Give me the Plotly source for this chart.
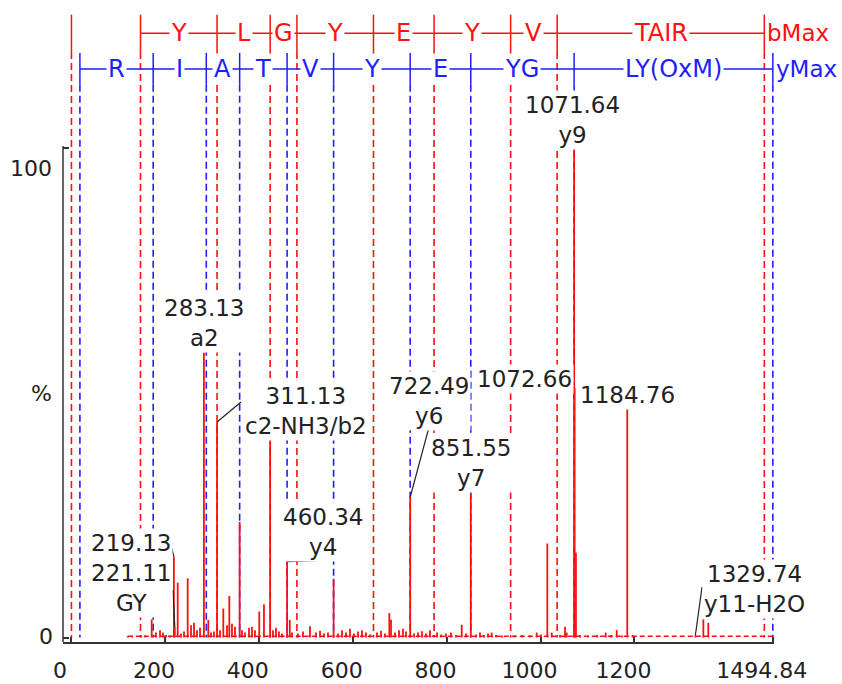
import plotly.graph_objects as go

# ---------------- data ----------------
peak_mz = [121.4, 130.0, 149.0, 157.6, 171.9, 181.0, 189.6, 196.0, 202.3, 210.9,
           219.13, 221.11, 227.3, 234.3, 240.7, 248.6, 255.6, 262.0, 268.4, 274.8,
           283.13, 292.4, 298.2, 304.6, 311.13, 317.4, 324.4, 332.3, 337.2, 342.9,
           349.3, 359.24, 364.2, 370.6, 379.1, 385.5, 391.9, 401.0, 411.0, 424.2,
           430.2, 436.6, 443.0, 449.5, 460.34, 466.0, 470.7, 483.5, 494.1, 509.0,
           521.8, 530.4, 538.9, 547.4, 559.36, 568.7, 577.2, 585.7, 594.2, 602.8,
           611.3, 619.8, 628.3, 636.8, 651.8, 660.3, 668.8, 678.0, 681.6, 690.1,
           698.6, 707.1, 713.5, 722.49, 730.6, 739.1, 747.6, 756.1, 764.6, 779.6,
           788.1, 798.7, 809.4, 820.0, 832.2, 841.3, 851.55, 862.6, 871.1, 879.7,
           888.2, 896.0, 905.2, 918.0, 945.7, 960.6, 977.6, 991.9, 1001.0, 1014.5,
           1023.9, 1041.5, 1052.2, 1055.8, 1071.64, 1072.66, 1075.5, 1084.1, 1101.2, 1120.3,
           1138.9, 1150.2, 1162.3, 1173.6, 1184.76, 1196.4, 1329.74, 1346.8, 1357.4]
peak_int = [0.3, 0.4, 0.5, 0.4, 3.7, 1.0, 1.5, 1.0, 0.5, 0.4,
            16.5, 2.1, 11.2, 0.8, 1.2, 12.1, 2.5, 3.0, 1.5, 2.0,
            58.2, 3.6, 1.0, 1.2, 44.0, 1.5, 5.9, 2.5, 8.5, 2.8,
            2.2, 23.6, 1.5, 1.0, 2.0, 2.2, 1.5, 5.3, 6.8, 40.0,
            1.5, 2.0, 1.2, 0.8, 15.5, 3.6, 1.0, 0.8, 1.2, 2.3,
            1.0, 1.4, 0.8, 1.0, 12.0, 0.8, 1.5, 1.0, 1.8, 0.8,
            1.2, 1.5, 1.0, 0.6, 1.0, 1.4, 0.8, 5.0, 3.6, 1.0,
            1.5, 1.8, 1.2, 28.7, 0.8, 1.0, 1.3, 0.8, 1.5, 1.0,
            0.6, 0.8, 1.0, 0.5, 2.6, 0.8, 29.4, 0.6, 1.0, 0.5,
            0.8, 1.0, 0.5, 0.4, 0.4, 0.5, 0.4, 1.0, 0.6, 19.2,
            1.0, 0.5, 2.2, 1.0, 100.0, 51.0, 17.3, 0.5, 0.4, 0.5,
            1.0, 0.5, 1.5, 0.4, 46.8, 0.5, 0.4, 3.7, 3.0]
baseline_mz = [121.0, 1497.0]
baseline_int = [0.25, 0.25]

# b-ion ladder (red) and y-ion ladder (blue)
b_mz = [1.008, 148.04, 311.10, 424.19, 481.21, 644.27, 773.32, 936.38, 1035.45, 1476.72]
b_res = ["Y", "L", "G", "Y", "E", "Y", "V", "TAIR"]
y_mz = [19.02, 175.12, 288.20, 359.24, 460.29, 559.36, 722.42, 851.47, 1071.55, 1494.83]
y_res = ["R", "I", "A", "T", "V", "Y", "E", "YG", "LY(OxM)"]

# peak labels
label_text = ["1071.64<br>y9", "283.13<br>a2", "311.13<br>c2-NH3/b2",
              "219.13<br>221.11<br>GY", "460.34<br>y4", "722.49<br>y6",
              "851.55<br>y7", "1072.66", "1184.76", "1329.74<br>y11-H2O"]
label_x = [1068.2, 283.3, 499.5, 127.8, 537.8, 762.5, 850.9, 965.9, 1185.3, 1454.7]
label_y = [105.7, 64.2, 46.3, 13.2, 21.5, 48.3, 35.6, 52.8, 49.5, 9.9]

leader_from_mz = [219.13, 221.11, 311.13, 460.34, 722.49, 1329.74]
leader_from_int = [16.5, 2.1, 44.0, 15.5, 28.7, 0.4]
leader_to_mz = [210.9, 217.3, 362.1, 544.2, 761.0, 1344.0]
leader_to_int = [19.5, 9.7, 48.1, 15.8, 42.4, 10.3]

x_ticks = [0, 200, 400, 600, 800, 1000, 1200, 1494.84]
x_ticktext = ["0", "200", "400", "600", "800", "1000", "1200", "1494.84"]

# ---------------- style ----------------
RED = "#ff1010"
BLUE = "#1e1eff"
TXT = "#222222"
AX = "#333333"
FONT = "DejaVu Sans"
X_RANGE = [-17.0, 1497.3]
Y_RANGE = [-0.92, 130.2]
RED_LINE_Y, RED_TICK = 123.4, (127.2, 119.6)
BLUE_LINE_Y, BLUE_TICK = 116.1, (119.4, 112.9)
DASH = "7px,4px"

fig = go.Figure()

# baseline noise
fig.add_trace(go.Scatter(x=baseline_mz, y=baseline_int, mode="lines",
                         line=dict(color=RED, width=1.5, dash="5px,3px"),
                         hoverinfo="skip"))
# stick spectrum
sx, sy = [], []
for m, i in zip(peak_mz, peak_int):
    sx += [m, m, None]
    sy += [0, i, None]
fig.add_trace(go.Scatter(x=sx, y=sy, mode="lines",
                         line=dict(color=RED, width=1.8), hoverinfo="skip"))

shapes = []
annotations = []

def ladder(mzs, res, color, line_y, tick, start_idx, max_label):
    # horizontal ladder line
    shapes.append(dict(type="line", xref="x", yref="y", x0=mzs[start_idx], x1=mzs[-1],
                       y0=line_y, y1=line_y, line=dict(color=color, width=1.5)))
    for m in mzs:
        shapes.append(dict(type="line", xref="x", yref="y", x0=m, x1=m,
                           y0=tick[0], y1=tick[1], line=dict(color=color, width=1.5)))
        shapes.append(dict(type="line", xref="x", yref="y", x0=m, x1=m, layer="below",
                           y0=tick[1], y1=0, line=dict(color=color, width=1.6, dash=DASH)))
    seg = mzs[start_idx:]
    for k, r in enumerate(res):
        annotations.append(dict(x=(seg[k] + seg[k + 1]) / 2, y=line_y, xref="x", yref="y",
                                text=r, showarrow=False, bgcolor="white", borderpad=1,
                                font=dict(family=FONT, size=24, color=color),
                                xanchor="center", yanchor="middle"))
    annotations.append(dict(x=mzs[-1], y=line_y, xref="x", yref="y", text=max_label,
                            showarrow=False, xanchor="left", yanchor="middle", xshift=1,
                            font=dict(family=FONT, size=23, color=color)))

ladder(b_mz, b_res, RED, RED_LINE_Y, RED_TICK, 1, "bMax")
ladder(y_mz, y_res, BLUE, BLUE_LINE_Y, BLUE_TICK, 0, "yMax")

# leader lines
for fm, fi, tm, ti in zip(leader_from_mz, leader_from_int, leader_to_mz, leader_to_int):
    shapes.append(dict(type="line", xref="x", yref="y", x0=fm, y0=fi, x1=tm, y1=ti,
                       line=dict(color=TXT, width=1.2)))

# peak labels
for t, x, y in zip(label_text, label_x, label_y):
    annotations.append(dict(x=x, y=y, xref="x", yref="y", text=t, showarrow=False,
                            bgcolor="white", borderpad=1, align="center",
                            xanchor="center", yanchor="middle",
                            font=dict(family=FONT, size=23, color=TXT)))

# y-axis spine (0..100 only)
shapes.append(dict(type="line", xref="paper", yref="y", x0=0, x1=0, y0=Y_RANGE[0], y1=100.4,
                   line=dict(color=AX, width=1.5)))
# y labels
for t, px, yv in [("100", 31, 95.7), ("%", 41, 49.9), ("0", 46, 0.3)]:
    annotations.append(dict(x=(px - 63) / 711, y=yv, xref="paper", yref="y", text=t,
                            showarrow=False, xanchor="center", yanchor="middle",
                            font=dict(family=FONT, size=22, color=TXT)))

fig.update_layout(
    width=842, height=684,
    margin=dict(l=63, r=68, t=0, b=42),
    paper_bgcolor="white", plot_bgcolor="white",
    showlegend=False,
    shapes=shapes, annotations=annotations,
    xaxis=dict(range=X_RANGE, showgrid=False, zeroline=False, showline=True,
               linecolor=AX, linewidth=1.5, ticks="inside", ticklen=5, tickcolor=AX,
               tickwidth=1.5, tickvals=x_ticks, ticktext=x_ticktext,
               tickfont=dict(family=FONT, size=22, color=TXT), automargin=False,
               ticklabelshift=-11, ticklabelstandoff=8),
    yaxis=dict(range=Y_RANGE, showgrid=False, zeroline=False, showline=False,
               ticks="inside", ticklen=6, tickcolor=AX, tickwidth=1.5, automargin=False,
               tickvals=[0, 100], showticklabels=False),
)

fig.write_html("out.html")
